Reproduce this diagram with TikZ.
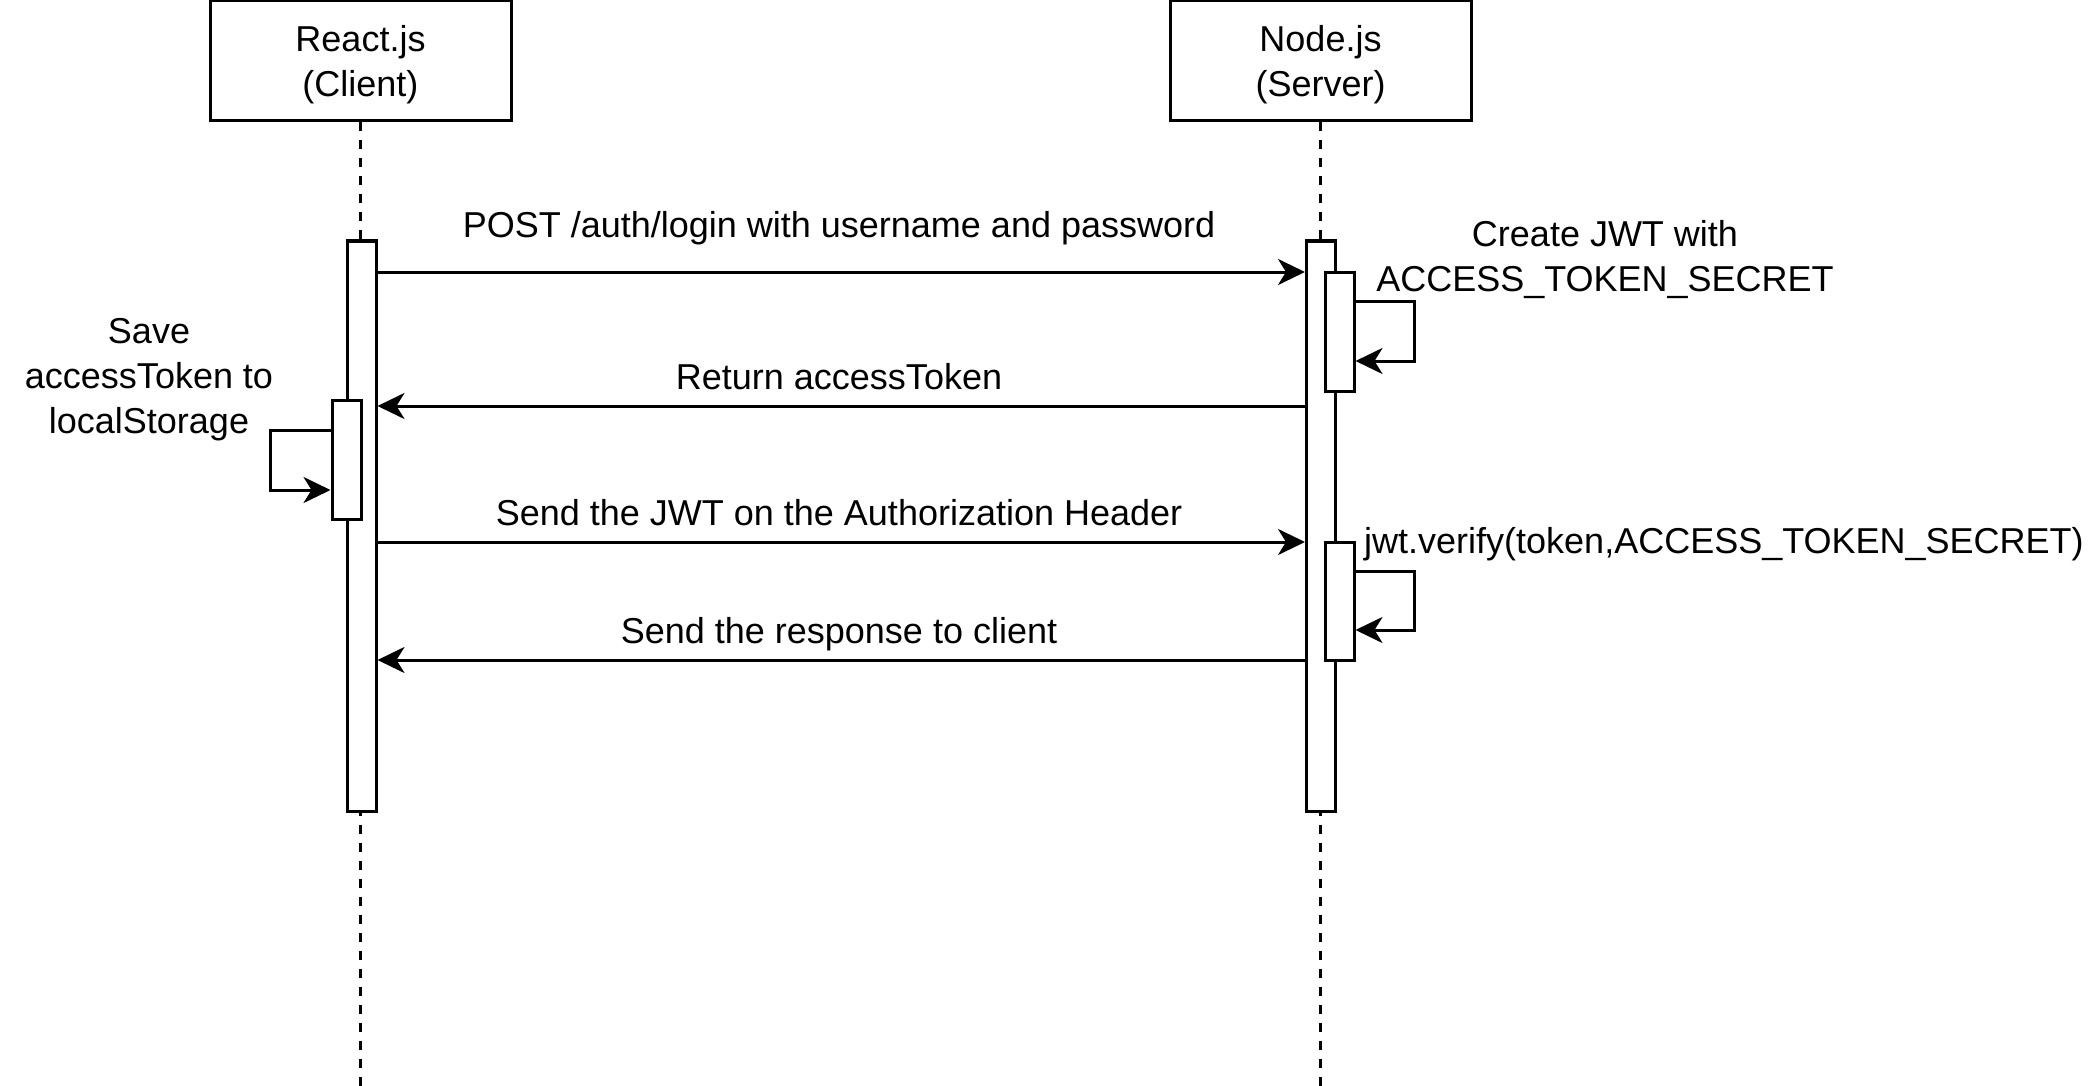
\documentclass[tikz,border=0pt]{standalone}
\usepackage{fontspec}
\setmainfont{Liberation Sans}
\usepackage{tikz}
\usetikzlibrary{arrows.meta}

\tikzset{
	actor/.style={draw, line width=3pt, minimum width=301pt, minimum height=120pt, inner sep=0pt},
	bar/.style={draw, fill=white, line width=3pt, minimum width=29pt, inner sep=0pt},
	lifeline/.style={line width=2.5pt, dash pattern=on 9pt off 9pt},
	msg/.style={line width=3pt, -{Stealth[length=27pt, width=26pt, inset=8pt]}},
	lbl/.style={align=center, inner sep=0pt}
}

\begin{document}
\begin{tikzpicture}[x=1pt, y=-1pt, font=\fontsize{36}{45}\selectfont]
		\useasboundingbox (0,0) rectangle (2088,1086);

		\node[actor, label={[lbl, yshift=-4pt]center:React.js\\(Client)}] (client) at (360.5,61) {};
		\node[actor, label={[lbl, yshift=-4pt]center:Node.js\\(Server)}] (server) at (1320.5,61) {};

		\coordinate (cend) at (client.south |- 0,1086);
		\coordinate (send) at (server.south |- 0,1086);
		\draw[lifeline] (client.south) -- (cend);
		\draw[lifeline] (server.south) -- (send);

		\node[bar, minimum height=570pt] (cbar) at (361.5,526) {};
		\node[bar, minimum height=570pt] (sbar) at (1321,526) {};
		\node[bar, minimum height=119pt] (csave) at (346.5,459.5) {};
		\node[bar, minimum height=119pt] (screate) at (1339.5,331.5) {};
		\node[bar, minimum height=118pt] (sverify) at (1339.5,601) {};

		\node[lbl] (postlbl) at (839,228) {POST /auth/login with username and password};
		\node[lbl] (retlbl) at (839,377) {Return accessToken};
		\node[lbl] (jwtlbl) at (839,513) {Send the JWT on the Authorization Header};
		\node[lbl] (reslbl) at (839,634) {Send the response to client};
		\node[lbl] (createlbl) at (1605,260) {Create JWT with\\ACCESS\_TOKEN\_SECRET};
		\node[lbl] (savelbl) at (149,380) {Save\\accessToken to\\localStorage};
		\node[lbl, anchor=west] (verifylbl) at (1364,544) {jwt.verify(token,ACCESS\_TOKEN\_SECRET)};

		\draw[msg] (cbar.east |- 0,272) -- (sbar.west |- 0,272);
		\draw[msg] (sbar.west |- 0,406) -- (cbar.east |- 0,406);
		\draw[msg] (cbar.east |- 0,542) -- (sbar.west |- 0,542);
		\draw[msg] (sbar.west |- 0,660) -- (cbar.east |- 0,660);

		\draw[msg] (screate.east |- 0,301) -- ++(59,0) |- (screate.east |- 0,361);
		\draw[msg] (sverify.east |- 0,571) -- ++(59,0) |- (sverify.east |- 0,630);
		\draw[msg] (csave.west |- 0,430) -- ++(-60,0) |- (csave.west |- 0,490);

	\end{tikzpicture}
\end{document}
